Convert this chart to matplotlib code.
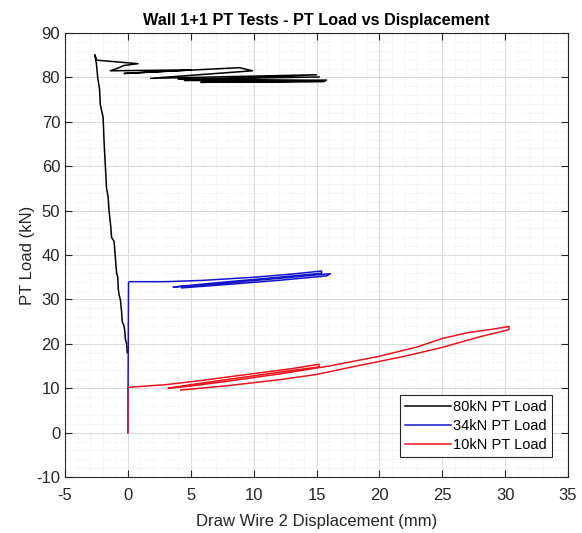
import matplotlib
matplotlib.use('Agg')
import matplotlib.pyplot as plt
from matplotlib.ticker import MultipleLocator

# 80kN PT test (black)
disp_80 = [-0.05, -0.1, -0.2, -0.24, -0.3, -0.45, -0.5, -0.6, -0.7, -0.77, -0.8, -0.9, -0.95,
           -1.04, -1.1, -1.3, -1.35, -1.5, -1.57, -1.7, -1.75, -1.83, -1.9, -1.97, -2.05,
           -2.2, -2.25, -2.4, -2.5, -2.62, -2.55,
           -2.54, 0.8, -0.3, -0.8, -1.4, 5.0, -0.3, 8.9, 9.9, 1.8, 15.0, 4.5, 15.8, 5.8,
           15.6, 6.5, 15.7, 4.0, 15.2]
load_80 = [18.0, 20.0, 21.0, 22.7, 24.0, 25.0, 27.2, 30.0, 31.0, 32.5, 35.0, 36.0, 37.8,
           41.0, 43.1, 44.0, 46.1, 50.0, 53.0, 55.1, 58.0, 62.0, 66.0, 71.0, 72.0,
           74.0, 77.3, 80.0, 83.0, 85.1, 84.4,
           83.9, 83.1, 82.7, 82.1, 81.5, 81.7, 80.9, 82.2, 81.5, 79.8, 80.6, 79.3, 79.4, 78.9,
           79.1, 79.0, 79.2, 79.6, 80.1]

# 34kN PT test (blue)
disp_34 = [0.0, 0.05, 0.1, 3.0, 6.0, 10.0, 13.0, 15.4, 15.4, 12.0, 8.0, 5.0, 3.6,
           5.0, 9.0, 13.0, 16.1, 15.8, 12.0, 8.0, 4.3]
load_34 = [0.0, 33.8, 34.0, 34.0, 34.3, 35.0, 35.7, 36.4, 35.9, 35.0, 34.0, 33.2, 32.8,
           33.0, 34.0, 35.0, 35.8, 35.3, 34.3, 33.4, 32.6]

# 10kN PT test (red)
disp_10 = [0.0, 0.0, 1.0, 3.0, 6.0, 10.0, 13.0, 15.2, 15.2, 12.0, 8.0, 5.0, 3.2,
           5.0, 8.0, 12.0, 16.0, 20.0, 23.0, 25.0, 27.0, 29.0, 30.3, 30.3, 28.0,
           25.0, 22.0, 18.0, 15.0, 12.0, 8.0, 5.0, 4.2]
load_10 = [0.0, 10.2, 10.4, 10.8, 11.8, 13.3, 14.4, 15.4, 14.8, 13.6, 12.0, 10.8, 10.0,
           10.5, 11.6, 13.2, 15.0, 17.2, 19.3, 21.2, 22.5, 23.3, 23.9, 23.2, 21.6,
           19.2, 17.2, 14.9, 13.1, 11.9, 10.6, 9.8, 9.6]

plt.rcParams['font.family'] = ['Liberation Sans', 'DejaVu Sans']
plt.rcParams['axes.unicode_minus'] = False

fig = plt.figure(figsize=(5.82, 5.33), dpi=100)
ax = fig.add_axes([0.1117, 0.105, 0.8643, 0.833])

ax.plot(disp_80, load_80, color='black', lw=1.1, label='80kN PT Load')
ax.plot(disp_34, load_34, color='#1414c8', lw=1.1, label='34kN PT Load')
ax.plot(disp_10, load_10, color='#e8141e', lw=1.1, label='10kN PT Load')

ax.set_xlim(-5, 35)
ax.set_ylim(-10, 90)
ax.xaxis.set_major_locator(MultipleLocator(5))
ax.xaxis.set_minor_locator(MultipleLocator(1))
ax.yaxis.set_major_locator(MultipleLocator(10))
ax.yaxis.set_minor_locator(MultipleLocator(2))

ax.grid(which='major', color='#dcdcdc', lw=0.8, ls='-')
ax.grid(which='minor', color='#e4e4e4', lw=0.6, ls=(0, (1, 2)))
ax.set_axisbelow(True)

ax.tick_params(which='both', direction='in', top=True, right=True, colors='#262626',
               labelsize=12)
ax.tick_params(which='major', length=5)
ax.tick_params(axis='x', which='major', pad=8)
ax.tick_params(which='minor', length=0)
for s in ax.spines.values():
    s.set_color('#262626')
    s.set_linewidth(0.8)

ax.set_title('Wall 1+1 PT Tests - PT Load vs Displacement', fontsize=11.7,
             fontweight='bold', pad=6)
ax.set_xlabel('Draw Wire 2 Displacement (mm)', fontsize=12, color='#262626', labelpad=8)
ax.set_ylabel('PT Load (kN)', fontsize=12, color='#262626', labelpad=1)

leg = ax.legend(loc='lower right', bbox_to_anchor=(0.968, 0.045), fontsize=10.5,
                fancybox=False, framealpha=1, edgecolor='#262626',
                handlelength=3.15, handletextpad=0.15, borderpad=0.35,
                labelspacing=0.35, borderaxespad=0)
leg.get_frame().set_linewidth(0.8)

fig.savefig('out.png', dpi=100)
